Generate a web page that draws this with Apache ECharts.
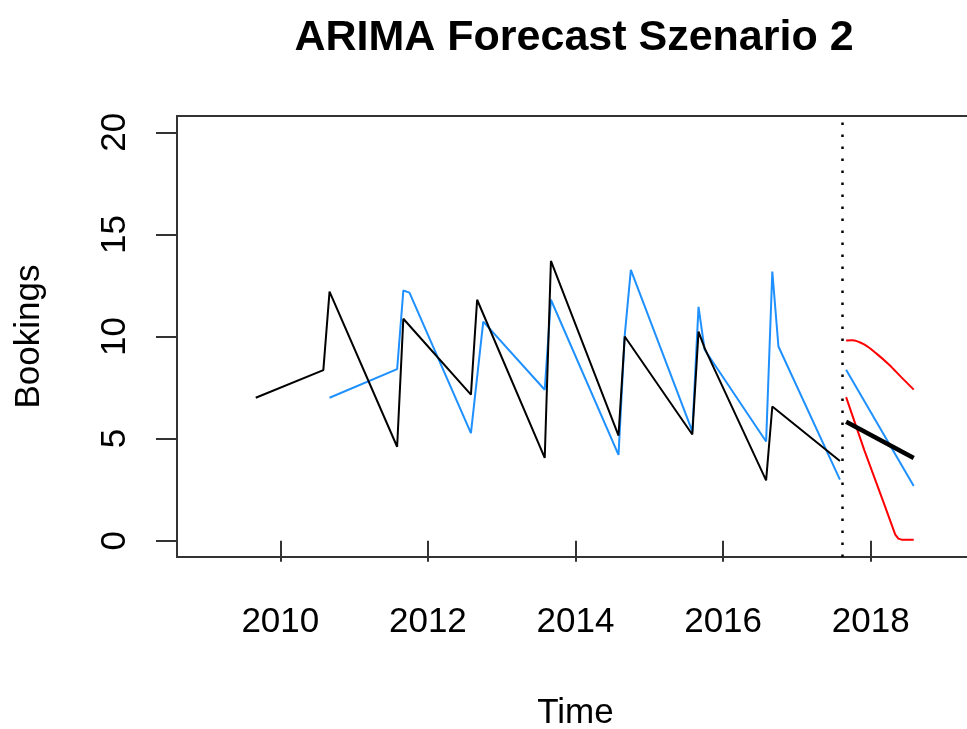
<!DOCTYPE html>
<html>
<head>
<meta charset="utf-8">
<script src="https://cdn.jsdelivr.net/npm/echarts@6/dist/echarts.min.js"></script>
<style>html,body{margin:0;padding:0;background:#fff}#c{width:967px;height:729px}</style>
</head>
<body>
<div id="c"></div>
<script>
// ---- data (decimal years) ----
var actualTime   = [2009.667, 2010.583, 2010.667, 2011.583, 2011.667, 2012.583, 2012.667, 2013.583, 2013.667, 2014.583, 2014.667, 2015.583, 2015.667, 2015.75, 2016.583, 2016.667, 2017.583];
var actualValues = [7.0, 8.35, 12.2, 4.6, 10.87, 7.15, 11.8, 4.05, 13.7, 5.15, 10.0, 5.2, 10.24, 9.43, 2.95, 6.57, 3.9];

var fittedTime   = [2010.667, 2011.583, 2011.667, 2011.75, 2012.583, 2012.75, 2013.583, 2013.667, 2014.583, 2014.667, 2014.75, 2015.583, 2015.667, 2015.75, 2016.583, 2016.667, 2016.75, 2017.583];
var fittedValues = [7.0, 8.4, 12.25, 12.15, 5.27, 10.73, 7.39, 11.8, 4.2, 10.05, 13.26, 5.35, 11.45, 9.35, 4.86, 13.18, 9.51, 2.99];

var forecastTime   = [2017.667, 2018.583];
var forecastMean   = [5.82, 4.05];
var forecastBlue   = [8.37, 2.68];

var upperTime   = [2017.667, 2017.75, 2017.917, 2018.083, 2018.25, 2018.417, 2018.583];
var upperValues = [9.80, 9.82, 9.6, 9.15, 8.62, 8.0, 7.40];

var lowerTime   = [2017.667, 2017.917, 2018.167, 2018.333, 2018.375, 2018.417, 2018.583];
var lowerValues = [7.03, 4.4, 1.95, 0.3, 0.1, 0.05, 0.05];

var forecastStart = 2017.62;

var xTicks = [2010, 2012, 2014, 2016, 2018];
var yTicks = [0, 5, 10, 15, 20];

function pairs(t, v) { return t.map(function (x, i) { return [x, v[i]]; }); }

var FONT = '"Liberation Sans", Arial, Helvetica, sans-serif';
var chart = echarts.init(document.getElementById('c'), null, { renderer: 'canvas' });
chart.setOption({
  animation: false,
  backgroundColor: '#fff',
  title: {
    text: 'ARIMA Forecast Szenario 2',
    left: 569, top: 12, textAlign: 'center',
    textStyle: { fontFamily: FONT, fontSize: 43, fontWeight: 'bold', color: '#000' }
  },
  grid: {
    left: 177, top: 116, right: -7, bottom: 172,
    outerBoundsMode: 'none', containLabel: false,
    show: true, borderColor: '#333', borderWidth: 2, backgroundColor: 'transparent'
  },
  xAxis: {
    type: 'value', min: 2008.6, max: 2019.4,
    name: 'Time', nameLocation: 'middle', nameGap: 139,
    nameTextStyle: { fontFamily: FONT, fontSize: 35, color: '#000' },
    splitLine: { show: false },
    axisLine: { show: false },
    axisTick: { show: true, customValues: xTicks, length: 21, lineStyle: { color: '#333', width: 2 } },
    axisLabel: { customValues: xTicks, margin: 48, fontFamily: FONT, fontSize: 35, color: '#000',
      formatter: function (v) { return String(Math.round(v)); } }
  },
  yAxis: {
    type: 'value', min: -0.8, max: 20.8,
    name: 'Bookings', nameLocation: 'middle', nameGap: 130,
    nameTextStyle: { fontFamily: FONT, fontSize: 35, color: '#000' },
    splitLine: { show: false },
    axisLine: { show: false },
    axisTick: { show: true, customValues: yTicks, length: 21, lineStyle: { color: '#333', width: 2 } },
    axisLabel: { customValues: yTicks, rotate: 90, margin: 44, fontFamily: FONT, fontSize: 35, color: '#000',
      formatter: function (v) { return String(Math.round(v)); } }
  },
  series: [
    {
      name: 'Actual', type: 'line', data: pairs(actualTime, actualValues), showSymbol: false, symbol: 'none',
      lineStyle: { color: '#000', width: 2 }, z: 3,
      markLine: {
        silent: true, symbol: ['none', 'none'], label: { show: false },
        lineStyle: { color: '#000', width: 2.5, type: [2.5, 9.5] },
        data: [{ xAxis: forecastStart }]
      }
    },
    { name: 'Fitted', type: 'line', data: pairs(fittedTime, fittedValues), showSymbol: false, symbol: 'none',
      lineStyle: { color: '#1E90FF', width: 2 }, z: 2 },
    { name: 'Forecast Blue', type: 'line', data: pairs(forecastTime, forecastBlue), showSymbol: false, symbol: 'none',
      lineStyle: { color: '#1E90FF', width: 2 }, z: 2 },
    { name: 'Upper', type: 'line', data: pairs(upperTime, upperValues), showSymbol: false, symbol: 'none', smooth: 0.3,
      lineStyle: { color: '#FF0000', width: 2 }, z: 2 },
    { name: 'Lower', type: 'line', data: pairs(lowerTime, lowerValues), showSymbol: false, symbol: 'none',
      lineStyle: { color: '#FF0000', width: 2 }, z: 2 },
    { name: 'Forecast', type: 'line', data: pairs(forecastTime, forecastMean), showSymbol: false, symbol: 'none',
      lineStyle: { color: '#000', width: 4.5 }, z: 4 }
  ]
});
</script>
</body>
</html>
